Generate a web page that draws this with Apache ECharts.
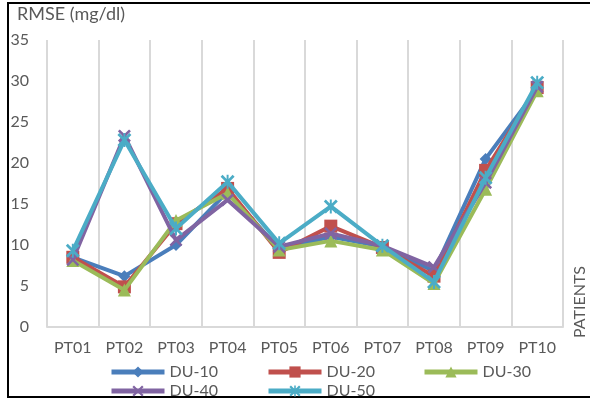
<!DOCTYPE html>
<html>
<head>
<meta charset="utf-8">
<script src="https://cdn.jsdelivr.net/npm/echarts@6/dist/echarts.min.js"></script>
<style>html,body{margin:0;padding:0;background:#fff}#c{width:590px;height:400px}</style>
</head>
<body>
<div id="c"></div>
<script>
var categories = ['PT01','PT02','PT03','PT04','PT05','PT06','PT07','PT08','PT09','PT10'];
var seriesNames = ['DU-10','DU-20','DU-30','DU-40','DU-50'];
var du10 = [8.5, 6.2, 10.0, 16.5, 9.5, 11.0, 9.8, 6.8, 20.5, 29.0];
var du20 = [8.5, 4.9, 12.6, 16.9, 9.1, 12.3, 9.7, 6.2, 19.1, 29.2];
var du30 = [8.1, 4.5, 13.0, 16.3, 9.4, 10.5, 9.4, 5.3, 16.8, 28.8];
var du40 = [8.2, 23.3, 10.6, 15.5, 9.8, 11.4, 9.9, 7.3, 17.6, 29.3];
var du50 = [9.3, 22.8, 12.0, 17.7, 10.2, 14.7, 9.9, 5.5, 18.2, 29.8];
var yTicks = [0, 5, 10, 15, 20, 25, 30, 35];

var colors = ['#4A7EBB','#C0504D','#9BBB59','#8064A2','#4BACC6'];
var xPath = 'path://M1.4,0L5,3.6L8.6,0L10,1.4L6.4,5L10,8.6L8.6,10L5,6.4L1.4,10L0,8.6L3.6,5L0,1.4Z';
var starPath = 'path://M1.4,0L5,3.6L8.6,0L10,1.4L6.4,5L10,8.6L8.6,10L5,6.4L1.4,10L0,8.6L3.6,5L0,1.4Z M4.3,0L5.7,0L5.7,10L4.3,10Z';
var symbols = ['diamond','rect','triangle',xPath,starPath];
var symSizes = [12, 13, 13, 13, 14];
var dataSets = [du10, du20, du30, du40, du50];
var font = 'Lato, "Open Sans", sans-serif';

var chart = echarts.init(document.getElementById('c'));
var series = seriesNames.map(function(n, i){
  return {
    name: n, type: 'line', data: dataSets[i],
    symbol: symbols[i], symbolSize: symSizes[i], symbolKeepAspect: true,
    lineStyle: {width: 4, color: colors[i]},
    itemStyle: {color: colors[i]},
    emphasis: {disabled: true},
    animation: false, z: 2 + i
  };
});
var legendPos = [[104,359],[261,359],[417,359],[104,378],[261,378]];
var legends = seriesNames.map(function(n, i){
  return {
    data: [n], left: legendPos[i][0], top: legendPos[i][1],
    itemWidth: 53, itemHeight: 14, itemGap: 5,
    lineStyle: {width: 5},
    textStyle: {color: '#595959', fontSize: 16, fontFamily: font},
    selectedMode: false
  };
});
chart.setOption({
  animation: false,
  textStyle: {fontFamily: font},
  grid: {left: 47, right: 27, top: 40, bottom: 73},
  legend: legends,
  xAxis: {
    type: 'category', data: categories, boundaryGap: true,
    axisLine: {show: true, lineStyle: {color: '#D9D9D9', width: 2}},
    axisTick: {show: false},
    splitLine: {show: true, lineStyle: {color: '#D9D9D9', width: 2}},
    axisLabel: {color: '#595959', fontSize: 16, margin: 13, fontFamily: font}
  },
  yAxis: {
    type: 'value', min: yTicks[0], max: yTicks[yTicks.length-1], interval: 5,
    axisLine: {show: false}, axisTick: {show: false}, splitLine: {show: false},
    axisLabel: {color: '#595959', fontSize: 16, margin: 18, fontFamily: font}
  },
  graphic: [
    {type: 'rect', shape: {x: 8, y: 3, width: 590, height: 394}, style: {fill: 'none', stroke: '#000', lineWidth: 2}, silent: true},
    {type: 'text', left: 17, top: 5, style: {text: 'RMSE (mg/dl)', fill: '#595959', fontSize: 18, fontFamily: font}},
    {type: 'text', x: 580, y: 302, rotation: Math.PI/2, style: {text: 'PATIENTS', fill: '#595959', fontSize: 16, fontFamily: font, align: 'center', verticalAlign: 'middle'}}
  ],
  series: series
});
</script>
</body>
</html>
